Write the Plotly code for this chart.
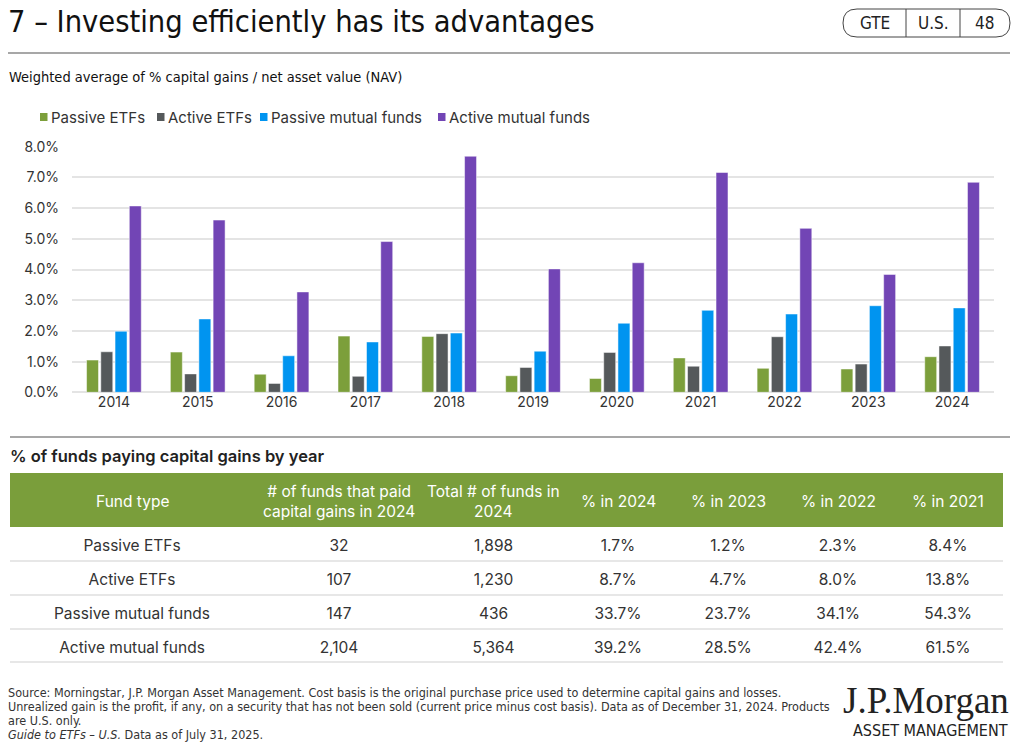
import plotly.graph_objects as go

# ---- data ----
years = ["2014", "2015", "2016", "2017", "2018", "2019", "2020", "2021", "2022", "2023", "2024"]
passive_etfs = [1.05, 1.31, 0.59, 1.83, 1.82, 0.54, 0.45, 1.12, 0.78, 0.76, 1.16]
active_etfs = [1.32, 0.60, 0.29, 0.52, 1.91, 0.81, 1.30, 0.85, 1.81, 0.92, 1.51]
passive_mfs = [1.99, 2.39, 1.19, 1.64, 1.93, 1.34, 2.25, 2.67, 2.55, 2.82, 2.75]
active_mfs = [6.07, 5.61, 3.27, 4.91, 7.69, 4.02, 4.22, 7.16, 5.34, 3.84, 6.84]

series_names = ["Passive ETFs", "Active ETFs", "Passive mutual funds", "Active mutual funds"]
series_colors = ["#7c9f3b", "#55595b", "#0094f0", "#7245b5"]

table_header = ["Fund type", "# of funds that paid<br>capital gains in 2024", "Total # of funds in<br>2024",
                "% in 2024", "% in 2023", "% in 2022", "% in 2021"]
fund_types = ["Passive ETFs", "Active ETFs", "Passive mutual funds", "Active mutual funds"]
funds_paid_2024 = ["32", "107", "147", "2,104"]
funds_total_2024 = ["1,898", "1,230", "436", "5,364"]
pct_2024 = ["1.7%", "8.7%", "33.7%", "39.2%"]
pct_2023 = ["1.2%", "4.7%", "23.7%", "28.5%"]
pct_2022 = ["2.3%", "8.0%", "34.1%", "42.4%"]
pct_2021 = ["8.4%", "13.8%", "54.3%", "61.5%"]

badge_labels = ["GTE", "U.S.", "48"]
footer_lines = [
    "Source: Morningstar, J.P. Morgan Asset Management. Cost basis is the original purchase price used to determine capital gains and losses.",
    "Unrealized gain is the profit, if any, on a security that has not been sold (current price minus cost basis). Data as of December 31, 2024. Products",
    "are U.S. only.",
    "<i>Guide to ETFs – U.S.</i> Data as of July 31, 2025.",
]

W, H = 1024, 750
BODY = "Inter, Roboto, sans-serif"
NARROW = "Liberation Sans Narrow, DejaVu Sans Condensed, Roboto, sans-serif"
col_widths = [244, 170, 139, 110, 110, 110, 110]
table_left, table_right = 10, 1003
legend_x = [40, 157, 260, 438]


# positions below are written in screen pixels (x right, y down)
def px(x):
    return x / W


def py(y):
    return 1 - y / H


fig = go.Figure()

for name, vals, col in zip(series_names, [passive_etfs, active_etfs, passive_mfs, active_mfs], series_colors):
    fig.add_trace(go.Bar(x=years, y=vals, name=name, marker_color=col,
                         marker_line_color="white", marker_line_width=0.5))

# the table header is left blank (white) and the green band plus its labels
# are drawn on top as shapes/annotations so the labels sit vertically centred
fig.add_trace(go.Table(
    domain=dict(x=[px(table_left), px(table_right)], y=[py(700), py(473)]),
    columnwidth=col_widths,
    header=dict(values=[""] * len(table_header), fill_color="white", line_color="white", height=58),
    cells=dict(values=[fund_types, funds_paid_2024, funds_total_2024, pct_2024, pct_2023, pct_2022, pct_2021],
               fill_color="white", line_color="white",
               font=dict(family=BODY, size=15.5, color="#333333"), align="center", height=34),
))

fig.update_layout(
    template="none",
    width=W, height=H,
    margin=dict(l=0, r=0, t=0, b=0, autoexpand=False),
    paper_bgcolor="white", plot_bgcolor="white",
    barmode="group", bargap=0.32, bargroupgap=0.16,
    font=dict(family=BODY, color="#333333"),
    showlegend=False,
    xaxis=dict(type="category", domain=[px(72), px(994)], showgrid=False, showline=False, ticks="",
               automargin=False, tickfont=dict(size=14, color="#333333")),
    yaxis=dict(domain=[py(392.3), py(146.7)], range=[0, 8], dtick=1, tickformat=".1f", ticksuffix="%",
               gridcolor="#e4e4e4", gridwidth=1.5, zeroline=True, zerolinecolor="#e4e4e4", zerolinewidth=1.5,
               showline=False, ticks="", ticklabelstandoff=12, automargin=False,
               tickfont=dict(size=14, color="#333333")),
)

annotations = [
    dict(text="7 – Investing efficiently has its advantages", x=px(6), y=py(22), xanchor="left", yanchor="middle",
         font=dict(family=NARROW, size=30.5, color="#111111")),
    dict(text="Weighted average of % capital gains / net asset value (NAV)", x=px(7), y=py(77),
         xanchor="left", yanchor="middle", font=dict(family=NARROW, size=14.5, color="#111111")),
    dict(text="% of funds paying capital gains by year", x=px(8), y=py(456),
         xanchor="left", yanchor="middle", font=dict(family=BODY, size=16.5, color="#222222", weight=600)),
    dict(text="J.P.Morgan", x=px(1011), y=py(700), xanchor="right", yanchor="middle",
         font=dict(family="Liberation Serif, DejaVu Serif, serif", size=37, color="#222222")),
    dict(text="ASSET MANAGEMENT", x=px(1010), y=py(730), xanchor="right", yanchor="middle",
         font=dict(family=NARROW, size=16, color="#222222")),
]
for label, cx in zip(badge_labels, [875, 933, 984]):
    annotations.append(dict(text=label, x=px(cx), y=py(23), xanchor="center", yanchor="middle",
                            font=dict(family=NARROW, size=17, color="#222222")))
for i, line in enumerate(footer_lines):
    annotations.append(dict(text=line, x=px(6), y=py(692 + 14 * i), xanchor="left", yanchor="middle",
                            font=dict(family=NARROW, size=12.5, color="#333333")))
for name, lx in zip(series_names, legend_x):
    annotations.append(dict(text=name, x=px(lx + 9), y=py(117), xanchor="left", yanchor="middle",
                            font=dict(family=BODY, size=15, color="#333333")))
# table header labels, centred in each column
edge = table_left
scale = (table_right - table_left) / sum(col_widths)
for label, w in zip(table_header, col_widths):
    cx = edge + w * scale / 2
    edge += w * scale
    annotations.append(dict(text=label, x=px(cx), y=py(501), xanchor="center", yanchor="middle",
                            font=dict(family=BODY, size=15.5, color="white")))
for a in annotations:
    a.update(xref="paper", yref="paper", showarrow=False)
fig.update_layout(annotations=annotations)

shapes = []
# rules
shapes.append(dict(type="line", x0=px(8), x1=px(1010), y0=py(53), y1=py(53), line=dict(color="#8a8a8a", width=1.5)))
shapes.append(dict(type="line", x0=px(10), x1=px(1010), y0=py(437), y1=py(437), line=dict(color="#8a8a8a", width=1.5)))
# legend swatches
for col, lx in zip(series_colors, legend_x):
    shapes.append(dict(type="rect", x0=px(lx), x1=px(lx + 7.5), y0=py(113), y1=py(121), fillcolor=col, line_width=0))
# table header band and row separators
shapes.append(dict(type="rect", x0=px(table_left), x1=px(table_right), y0=py(473), y1=py(527),
                   fillcolor="#7a9e3b", line_width=0))
for yy in [561, 595, 629, 662]:
    shapes.append(dict(type="line", x0=px(table_left), x1=px(table_right), y0=py(yy), y1=py(yy),
                       line=dict(color="#cfcfcf", width=1)))
# header pill
l, r, t, b, rad = 843, 1010, 9, 37, 14
pill = (f"M {px(l + rad)},{py(t)} L {px(r - rad)},{py(t)} Q {px(r)},{py(t)} {px(r)},{py((t + b) / 2)} "
        f"Q {px(r)},{py(b)} {px(r - rad)},{py(b)} L {px(l + rad)},{py(b)} Q {px(l)},{py(b)} {px(l)},{py((t + b) / 2)} "
        f"Q {px(l)},{py(t)} {px(l + rad)},{py(t)} Z")
shapes.append(dict(type="path", path=pill, line=dict(color="#444444", width=1)))
for xx in [906, 960]:
    shapes.append(dict(type="line", x0=px(xx), x1=px(xx), y0=py(t), y1=py(b), line=dict(color="#444444", width=1)))
for s in shapes:
    s.update(xref="paper", yref="paper")
fig.update_layout(shapes=shapes)

# drop the browser's default 8px body margin so the figure sits at the page corner
fig.write_html("out.html", config={"displayModeBar": False},
               post_script="document.body.style.margin = '0';")
